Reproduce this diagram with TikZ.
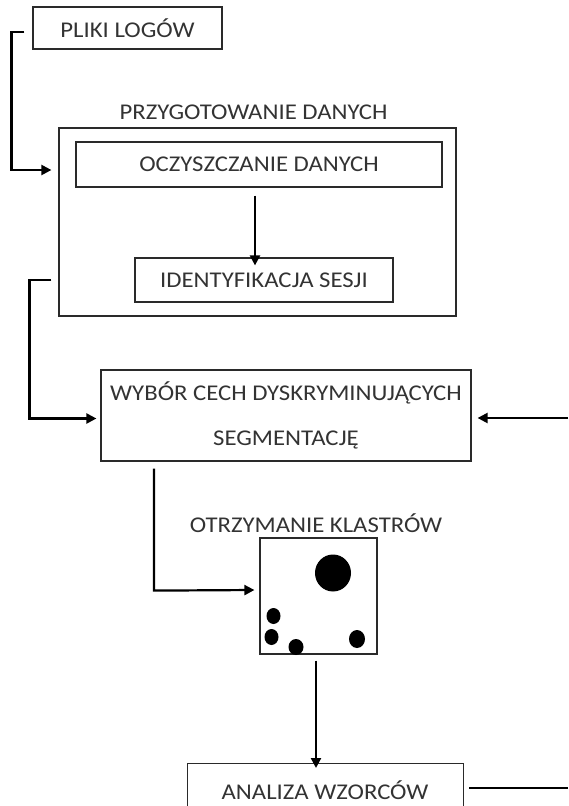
\documentclass[tikz,border=0pt]{standalone}
\usepackage{fontspec}
\setmainfont{Carlito}[FakeStretch=1.1]
\usetikzlibrary{arrows.meta,calc}
\definecolor{txt}{HTML}{333333}
\definecolor{ln}{HTML}{2A2A2A}
\begin{document}
\begin{tikzpicture}[x=1pt,y=-1pt,
  box/.style={draw=ln,line width=1.2pt,inner sep=0pt,text=txt,font=\fontsize{22.5}{26}\selectfont},
  lbl/.style={text=txt,inner sep=0pt,font=\fontsize{22.5}{26}\selectfont},
  conn/.style={draw=black,line width=2.2pt},
  arr/.style={conn,-{Triangle[length=10pt,width=10pt]}},
  dot/.style={fill=black,draw=none}]
\clip (0,0) rectangle (568,806);
\useasboundingbox (0,0) rectangle (568,806);
\node[box,minimum width=189,minimum height=42] (plik) at (127.5,28) {PLIKI LOGÓW};
\node[lbl] (prepl) at (253.5,112) {PRZYGOTOWANIE DANYCH};
\node[box,minimum width=397,minimum height=188] (prep) at (257.5,222) {};
\node[box,minimum width=366,minimum height=45] (oczy) at (259,164.5) {OCZYSZCZANIE DANYCH};
\node[box,minimum width=258,minimum height=44] (ident) at (264,280) {IDENTYFIKACJA SESJI};
\node[box,minimum width=370,minimum height=91,align=center,font=\fontsize{22.5}{45}\selectfont] (wybor) at (286,415.5) {WYBÓR CECH DYSKRYMINUJĄCYCH\\SEGMENTACJĘ};
\node[lbl] (klastl) at (316,523) {OTRZYMANIE KLASTRÓW};
\node[box,minimum width=117,minimum height=116] (klast) at (318.5,596) {};
\node[box,minimum width=276,minimum height=50,anchor=north west] (anal) at (187,763) {};
\node[lbl] (analt) at (325,790) {ANALIZA WZORCÓW};
% clusters
\fill[dot] (333,573) ellipse (18 and 18.5);
\fill[dot] (273.5,616) ellipse (7 and 8);
\fill[dot] (271.5,637) ellipse (7 and 8);
\fill[dot] (296,647) ellipse (7.5 and 8);
\fill[dot] (357,639) ellipse (8 and 9);
% connectors
\coordinate (redge1) at (568,418);
\coordinate (redge2) at (568,788);
\coordinate (s2) at ([shift={(-4,8)}]oczy.south);
\coordinate (s5) at ([shift={(-2.5,6)}]klast.south);
\draw[arr] ([shift={(-8,4)}]plik.west) -- ++(-13,0) |- ([shift={(-7,5.5)}]oczy.west -| prep.west);
\draw[arr] (s2) -- ([yshift=-8]s2 |- ident.north);
\draw[arr] ([shift={(-7,58)}]prep.west) -- ++(-22,0) |- ([shift={(-4,3)}]wybor.west);
\draw[arr] (redge1) -- ([xshift=6]wybor.east |- redge1);
\draw[arr] ([shift={(-132,7)}]wybor.south) -- ++(0,122) -- ([shift={(-5,-6)}]klast.west);
\draw[arr] (s5) -- ([yshift=-5]s5 |- anal.north);
\draw[conn] ([xshift=5]anal.east |- redge2) -- (redge2);
\end{tikzpicture}
\end{document}
